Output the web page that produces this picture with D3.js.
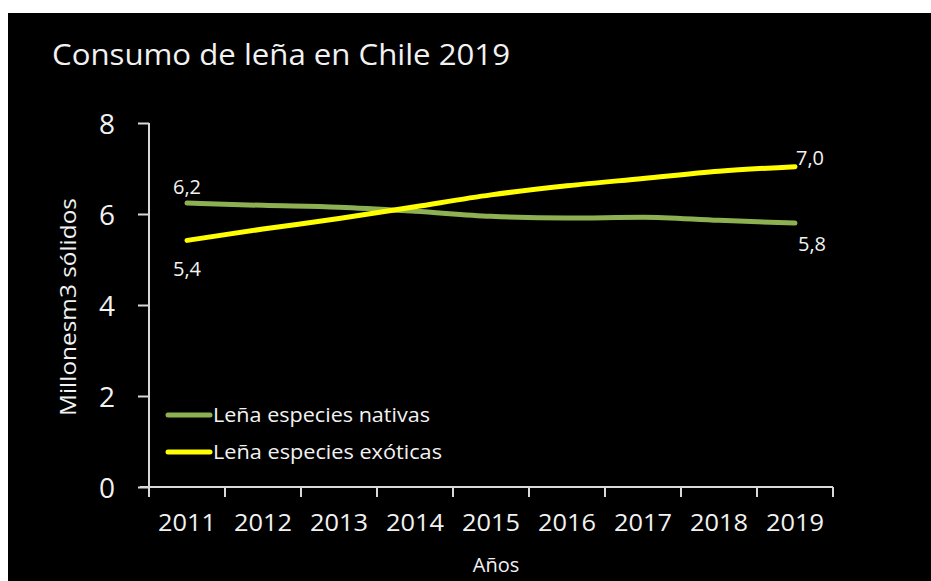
<!DOCTYPE html>
<html>
<head>
<meta charset="utf-8">
<script src="https://cdn.jsdelivr.net/npm/d3@7"></script>
<style>
  body { margin: 0; background: #fff; }
  text { font-family: "Open Sans", sans-serif; fill: #f2f2f2; }
</style>
</head>
<body>
<div id="chart"></div>
<script>
var years = ["2011", "2012", "2013", "2014", "2015", "2016", "2017", "2018", "2019"];
var nativas = [6.24, 6.19, 6.15, 6.06, 5.95, 5.91, 5.93, 5.86, 5.8];
var exoticas = [5.42, 5.67, 5.9, 6.16, 6.42, 6.62, 6.78, 6.94, 7.04];
var yTicks = [0, 2, 4, 6, 8];
var seriesNames = ["Leña especies nativas", "Leña especies exóticas"];
var seriesColors = ["#8db052", "#ffff00"];

var W = 931, H = 581;
var svg = d3.select("#chart").append("svg")
    .attr("width", W)
    .attr("height", H);

// black slide background
svg.append("rect")
    .attr("x", 8).attr("y", 13)
    .attr("width", W - 8).attr("height", H - 13)
    .attr("fill", "#000");

var x = d3.scaleBand().domain(years).range([149, 833]);
var y = d3.scaleLinear().domain([0, 8]).range([487, 123]);

svg.append("text")
    .attr("x", 52).attr("y", 65)
    .style("font-size", "30px")
    .attr("textLength", 458)
    .attr("lengthAdjust", "spacingAndGlyphs")
    .text("Consumo de leña en Chile 2019");

// y axis
var yAxis = svg.append("g")
    .attr("transform", "translate(149,0)")
    .call(d3.axisLeft(y).tickValues(yTicks).tickSize(11).tickPadding(23));
yAxis.selectAll("text").style("font-size", "28px").attr("dy", "0.36em");

// x axis
var xAxis = svg.append("g")
    .attr("transform", "translate(0,487)")
    .call(d3.axisBottom(x).tickSize(0).tickPadding(27));
xAxis.selectAll("text").style("font-size", "24px")
    .attr("textLength", 58).attr("lengthAdjust", "spacingAndGlyphs");
xAxis.selectAll(".tick").append("line")
    .attr("x1", -x.bandwidth() / 2).attr("x2", -x.bandwidth() / 2)
    .attr("y1", 0).attr("y2", 10);
xAxis.append("line")
    .attr("x1", 833).attr("x2", 833).attr("y1", 0).attr("y2", 10);

svg.selectAll(".domain, .tick line, g line")
    .attr("stroke", "#d9d9d9").attr("stroke-width", 2);
svg.selectAll(".domain").attr("d", function () {
  return d3.select(this.parentNode).attr("transform") === "translate(149,0)"
    ? "M0,123V487" : "M140,0H833";
});

svg.append("text")
    .attr("x", 496).attr("y", 572)
    .attr("text-anchor", "middle")
    .style("font-size", "20px")
    .text("Años");

svg.append("text")
    .attr("transform", "translate(76,307) rotate(-90)")
    .attr("text-anchor", "middle")
    .style("font-size", "21px")
    .attr("textLength", 218)
    .attr("lengthAdjust", "spacingAndGlyphs")
    .text("Millonesm3 sólidos");

var line = d3.line()
    .x(function (d, i) { return x(years[i]) + x.bandwidth() / 2; })
    .y(function (d) { return y(d); })
    .curve(d3.curveMonotoneX);

[nativas, exoticas].forEach(function (s, k) {
  svg.append("path")
      .datum(s)
      .attr("fill", "none")
      .attr("stroke", seriesColors[k])
      .attr("stroke-width", 5)
      .attr("stroke-linecap", "round")
      .attr("d", line);
});

// data labels at first and last points
var fmt = function (v) { return d3.format(".1f")(v).replace(".", ","); };
var first = x(years[0]) + x.bandwidth() / 2;
var last = x(years[years.length - 1]) + x.bandwidth() / 2;
var labels = [
  { px: first, v: nativas[0], dy: -9 },
  { px: first, v: exoticas[0], dy: 36 },
  { px: last + 15, v: exoticas[8], dy: -2 },
  { px: last + 17, v: nativas[8], dy: 28 }
];
svg.selectAll(".dlabel").data(labels).enter().append("text")
    .attr("class", "dlabel")
    .attr("x", function (d) { return d.px; })
    .attr("y", function (d) { return y(d.v) + d.dy; })
    .attr("text-anchor", "middle")
    .style("font-size", "20px")
    .text(function (d) { return fmt(d.v); });

// legend
var legendWidths = [217, 229];
var legend = svg.selectAll(".leg").data(seriesNames).enter().append("g")
    .attr("class", "leg")
    .attr("transform", function (d, i) { return "translate(168," + (415 + i * 37) + ")"; });
legend.append("line")
    .attr("x1", 0).attr("x2", 42)
    .attr("stroke", function (d, i) { return seriesColors[i]; })
    .attr("stroke-width", 5)
    .attr("stroke-linecap", "round");
legend.append("text")
    .attr("x", 45).attr("y", 7)
    .style("font-size", "20px")
    .attr("textLength", function (d, i) { return legendWidths[i]; })
    .attr("lengthAdjust", "spacingAndGlyphs")
    .text(function (d) { return d; });
</script>
</body>
</html>
